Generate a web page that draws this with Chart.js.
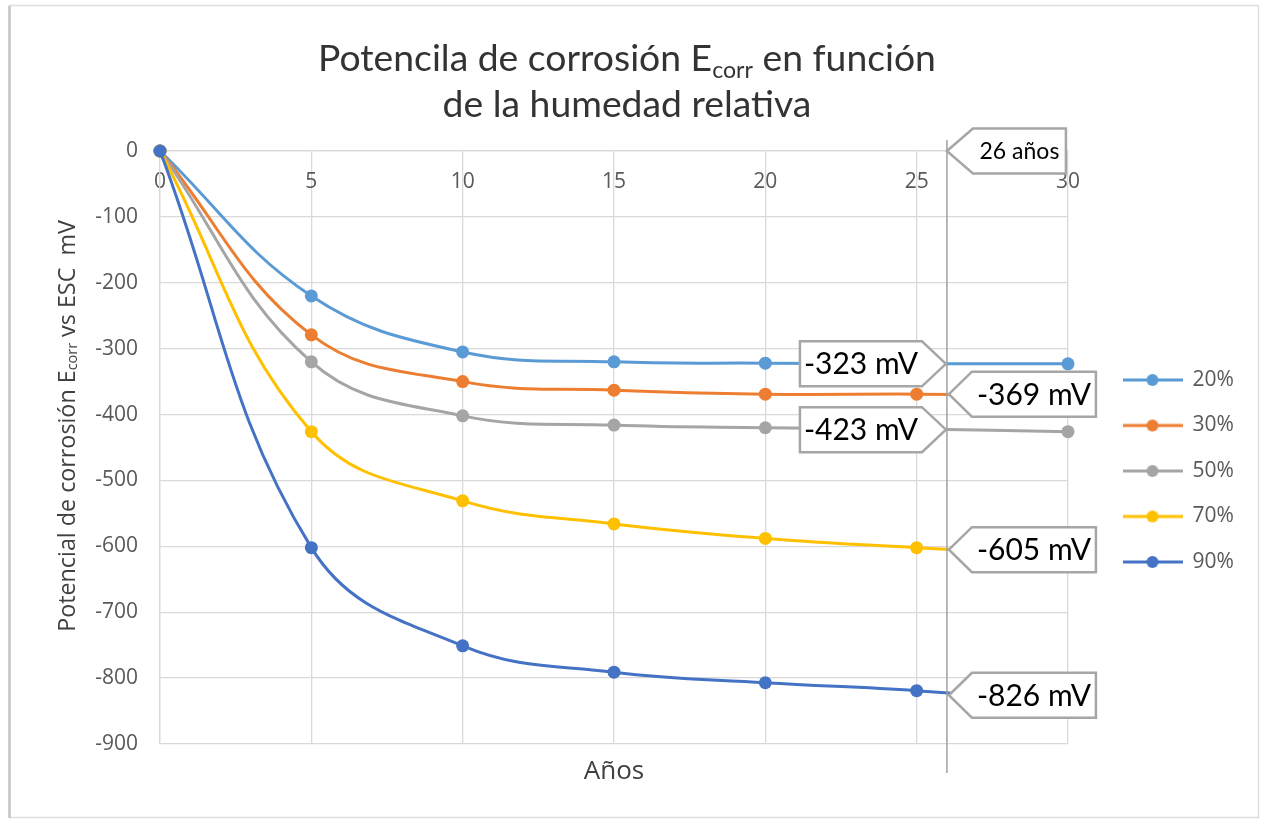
<!DOCTYPE html>
<html><head><meta charset="utf-8">
<script src="https://cdn.jsdelivr.net/npm/chart.js@4.4.0/dist/chart.umd.min.js"></script>
<style>html,body{margin:0;padding:0;background:#fff;}canvas{display:block;}</style>
</head><body>
<canvas id="c" width="1261" height="820"></canvas>
<script>
// ---------- data ----------
const years = [0, 5, 10, 15, 20, 25, 30];
const seriesNames = ['20%', '30%', '50%', '70%', '90%'];
const hr20 = [0, -220, -305, -320, -322, -323, -323];
const hr30 = [0, -279, -350, -363, -369, -369, -371];
const hr50 = [0, -320, -402, -416, -420, -422, -426];
const hr70 = [0, -426, -531, -566, -588, -602, -614];
const hr90 = [0, -602, -751, -791, -807, -819, -838];
const xTickValues = [0, 5, 10, 15, 20, 25, 30];
const yTickValues = [0, -100, -200, -300, -400, -500, -600, -700, -800, -900];
const markerYear = 26;
const markerLabel = '26 años';
const calloutValues = [-323, -369, -423, -605, -826];
const calloutLabels = ['-323 mV', '-369 mV', '-423 mV', '-605 mV', '-826 mV'];
const calloutSides = ['left', 'right', 'left', 'right', 'right'];
const titleLine1 = [{t: 'Potencila de corrosión E'}, {t: 'corr', sub: true}, {t: ' en función'}];
const titleLine2 = [{t: 'de la humedad relativa'}];
const yTitle = [{t: 'Potencial de corrosión E'}, {t: 'corr', sub: true}, {t: ' vs ESC  mV'}];
const xTitle = 'Años';

const colors = ['#5B9BD5', '#ED7D31', '#A5A5A5', '#FFC000', '#4472C4'];
const allSeries = [hr20, hr30, hr50, hr70, hr90];

// legend icons (line + marker)
const legendIcons = colors.map(c => {
  const cv = document.createElement('canvas');
  cv.width = 60; cv.height = 16;
  const g = cv.getContext('2d');
  g.strokeStyle = c; g.lineWidth = 3;
  g.beginPath(); g.moveTo(0, 8); g.lineTo(60, 8); g.stroke();
  g.fillStyle = c; g.beginPath(); g.arc(30, 8, 6, 0, Math.PI * 2); g.fill();
  return cv;
});

const datasets = allSeries.map((vals, i) => ({
  label: seriesNames[i],
  data: years.map((x, j) => ({x: x, y: vals[j]})),
  borderColor: colors[i],
  backgroundColor: colors[i],
  pointBackgroundColor: colors[i],
  pointBorderWidth: 0,
  pointRadius: 6.5,
  borderWidth: 3,
  tension: 0.4,
  fill: false,
  clip: false,
  order: allSeries.length - 1 - i
}));

function richWidth(ctx, parts, size, family) {
  let w = 0;
  parts.forEach(p => {
    ctx.font = (p.sub ? size * 0.62 : size) + 'px "' + family + '"';
    p.w = ctx.measureText(p.t).width; w += p.w;
  });
  return w;
}
function drawRich(ctx, parts, cx, y, size, family, color) {
  const w = richWidth(ctx, parts, size, family);
  let x = cx - w / 2;
  ctx.fillStyle = color;
  ctx.textAlign = 'left';
  parts.forEach(p => {
    ctx.font = (p.sub ? size * 0.62 : size) + 'px "' + family + '"';
    ctx.fillText(p.t, x, p.sub ? y + size * 0.2 : y);
    x += p.w;
  });
}
function callout(ctx, tipX, tipY, side, w, h, arrow, text, fontSize) {
  ctx.save();
  ctx.beginPath();
  let cx;
  if (side === 'right') {
    const bx = tipX + arrow;
    ctx.moveTo(tipX, tipY); ctx.lineTo(bx, tipY - h / 2); ctx.lineTo(bx + w, tipY - h / 2);
    ctx.lineTo(bx + w, tipY + h / 2); ctx.lineTo(bx, tipY + h / 2); ctx.closePath();
    cx = bx + w / 2;
  } else {
    const bx = tipX - arrow;
    ctx.moveTo(tipX, tipY); ctx.lineTo(bx, tipY - h / 2); ctx.lineTo(bx - w, tipY - h / 2);
    ctx.lineTo(bx - w, tipY + h / 2); ctx.lineTo(bx, tipY + h / 2); ctx.closePath();
    cx = bx - w / 2;
  }
  ctx.fillStyle = '#ffffff'; ctx.fill();
  ctx.strokeStyle = '#a6a6a6'; ctx.lineWidth = 2.5; ctx.lineJoin = 'miter'; ctx.stroke();
  ctx.fillStyle = '#000000';
  ctx.font = fontSize + 'px "Lato"';
  ctx.textAlign = 'center'; ctx.textBaseline = 'middle';
  ctx.fillText(text, cx, tipY + 1);
  ctx.restore();
}

const decor = {
  id: 'decor',
  beforeDraw(chart) {
    const ctx = chart.ctx;
    ctx.save();
    ctx.fillStyle = '#fff'; ctx.fillRect(0, 0, chart.width, chart.height);
    ctx.strokeStyle = '#dedede'; ctx.lineWidth = 1.5;
    ctx.strokeRect(9.5, 5.5, 1249, 812);
    ctx.strokeStyle = '#c4c4c4'; ctx.lineWidth = 2.5;
    ctx.beginPath(); ctx.moveTo(9.5, 6); ctx.lineTo(9.5, 818); ctx.stroke();
    ctx.restore();
  },
  afterDatasetsDraw(chart) {
    const ctx = chart.ctx;
    const xs = chart.scales.x, ys = chart.scales.y;
    const mx = xs.getPixelForValue(markerYear);
    ctx.save();
    ctx.strokeStyle = '#a0a0a0'; ctx.lineWidth = 1.5;
    ctx.beginPath(); ctx.moveTo(mx, 140); ctx.lineTo(mx, 773); ctx.stroke();
    callout(ctx, mx, ys.getPixelForValue(0), 'right', 93, 45, 26, markerLabel, 23);
    calloutValues.forEach((v, i) => {
      const py = ys.getPixelForValue(v);
      if (calloutSides[i] === 'right') callout(ctx, mx + 2, py, 'right', 124, 45, 23, calloutLabels[i], 30);
      else callout(ctx, mx - 1, py, 'left', 122, 45, 24, calloutLabels[i], 30);
    });
    ctx.restore();
  },
  afterDraw(chart) {
    const ctx = chart.ctx;
    ctx.save();
    ctx.textBaseline = 'alphabetic';
    // chart title
    const base = richWidth(ctx, titleLine2, 100, 'Lato');
    const ts = 100 * 369 / base;
    drawRich(ctx, titleLine1, 627, 71, ts, 'Lato', '#333333');
    drawRich(ctx, titleLine2, 627, 117, ts, 'Lato', '#333333');
    // y axis title
    const yb = richWidth(ctx, yTitle, 100, 'Open Sans');
    const ys = 100 * 412 / yb;
    ctx.translate(68, 426);
    ctx.rotate(-Math.PI / 2);
    ctx.textBaseline = 'middle';
    drawRich(ctx, yTitle, 0, 0, ys, 'Open Sans', '#404040');
    ctx.restore();
  }
};

const tickFont = {family: 'Open Sans', size: 21};
new Chart(document.getElementById('c'), {
  type: 'line',
  data: {datasets: datasets},
  options: {
    responsive: false,
    animation: false,
    layout: {padding: {top: 141, left: 0, right: 22.5, bottom: 19}},
    plugins: {
      tooltip: {enabled: false},
      title: {display: false},
      legend: {
        position: 'right', align: 'center', fullSize: true, maxWidth: 140,
        labels: {
          usePointStyle: true, pointStyleWidth: 59, boxHeight: 21,
          font: {family: 'Open Sans', size: 21}, color: '#595959', padding: 24.5,
          generateLabels: chart => chart.data.datasets.map((ds, i) => ({
            text: ds.label, pointStyle: legendIcons[i], datasetIndex: i,
            fillStyle: ds.borderColor, strokeStyle: ds.borderColor, lineWidth: 0, hidden: false,
            fontColor: '#595959'
          }))
        }
      }
    },
    scales: {
      x: {
        type: 'linear', position: 'top', min: 0, max: 30,
        afterBuildTicks: s => { s.ticks = xTickValues.map(v => ({value: v})); },
        afterFit: s => { s.height = 10; },
        grid: {color: '#d9d9d9', lineWidth: 1.3, drawTicks: false},
        border: {color: '#d9d9d9', width: 1.3},
        ticks: {mirror: true, padding: 18, font: tickFont, color: '#595959', maxRotation: 0, autoSkip: false}
      },
      xb: {
        type: 'linear', position: 'bottom', min: 0, max: 30,
        afterFit: s => { s.height = 57; },
        grid: {display: false, drawTicks: false},
        border: {display: false},
        ticks: {display: false},
        title: {display: true, text: xTitle, font: {family: 'Open Sans', size: 26}, color: '#404040', padding: {top: 0, bottom: 14}}
      },
      y: {
        type: 'linear', position: 'left', min: -900, max: 0,
        afterBuildTicks: s => { s.ticks = yTickValues.map(v => ({value: v})); },
        afterFit: s => { s.width = 160; },
        grid: {color: '#d9d9d9', lineWidth: 1.3, drawTicks: false},
        border: {color: '#d9d9d9', width: 1.3},
        ticks: {padding: 22, font: tickFont, color: '#595959', autoSkip: false}
      },
      yr: {
        type: 'linear', position: 'right', display: true,
        afterFit: s => { s.width = 30.5; },
        grid: {display: false, drawTicks: false},
        border: {display: false},
        ticks: {display: false}
      }
    }
  },
  plugins: [decor]
});
</script>
</body></html>
